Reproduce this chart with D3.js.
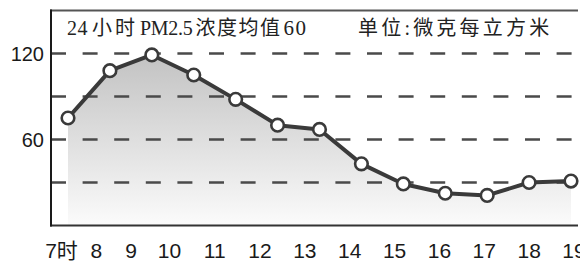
<html>
<head>
<meta charset="utf-8">
<title>PM2.5</title>
<script src="https://cdn.jsdelivr.net/npm/d3@7/dist/d3.min.js"></script>
<style>
  * { margin: 0; padding: 0; }
  body { background: #fff; }
  #chart { width: 580px; height: 261px; }
</style>
</head>
<body>
<div id="chart"></div>
<script type="text/javascript">
  // hours and hourly PM2.5 values
  var hours = [7, 8, 9, 10, 11, 12, 13, 14, 15, 16, 17, 18, 19];
  var values = [75, 108, 119, 105, 88, 70, 67, 43, 29, 22.5, 21, 30, 31];
  var hourLabels = ['7时', '8', '9', '10', '11', '12', '13', '14', '15', '16', '17', '18', '19'];
  var yTicks = [120, 60];
  var gridValues = [120, 90, 60, 30];
  var titleParts = ['24', '小时', 'PM2.5', '浓度均值', '60'];
  var unitText = '单位:微克每立方米';

  var W = 580, H = 261;
  var svg = d3.select('#chart').append('svg')
      .attr('width', W)
      .attr('height', H);

  var x = d3.scaleLinear().domain([7, 19]).range([68, 571]);
  var y = d3.scaleLinear().domain([0, 150]).range([225.5, 10.5]);
  // the hour labels in the print are not evenly spaced
  var xl = d3.scaleLinear().domain([7, 9, 10, 12, 19]).range([61.5, 131, 169.5, 260, 574]);

  var data = hours.map(function(h, i) { return {h: h, v: values[i], label: hourLabels[i]}; });

  // gradient under the curve
  var defs = svg.append('defs');
  var grad = defs.append('linearGradient')
      .attr('id', 'areaGrad')
      .attr('gradientUnits', 'userSpaceOnUse')
      .attr('x1', 0).attr('x2', 0)
      .attr('y1', y(120)).attr('y2', y(0));
  grad.append('stop').attr('offset', '0%').attr('stop-color', '#c2c2c2');
  grad.append('stop').attr('offset', '100%').attr('stop-color', '#fbfbfb');

  var area = d3.area()
      .x(function(d) { return x(d.h); })
      .y0(y(0))
      .y1(function(d) { return y(d.v); });

  svg.append('path')
      .datum(data)
      .attr('d', area)
      .attr('fill', 'url(#areaGrad)');

  // dashed gridlines
  svg.selectAll('line.grid').data(gridValues)
    .enter().append('line')
      .attr('class', 'grid')
      .attr('x1', x.range()[0] - 17)
      .attr('x2', W)
      .attr('y1', function(d) { return y(d); })
      .attr('y2', function(d) { return y(d); })
      .attr('stroke', '#4a4a4a')
      .attr('stroke-width', 2.6)
      .attr('stroke-dasharray', '15,16.6');

  // frame: top rule, left axis, bottom axis
  svg.append('line')
      .attr('x1', 50).attr('x2', 578)
      .attr('y1', y(150)).attr('y2', y(150))
      .attr('stroke', '#555').attr('stroke-width', 2);
  svg.append('line')
      .attr('x1', 50).attr('x2', 578)
      .attr('y1', y(0)).attr('y2', y(0))
      .attr('stroke', '#333').attr('stroke-width', 2);
  svg.append('line')
      .attr('x1', 51).attr('x2', 51)
      .attr('y1', y(150) - 1).attr('y2', y(0) + 1)
      .attr('stroke', '#1a1a1a').attr('stroke-width', 2);

  // the line and markers
  var line = d3.line()
      .x(function(d) { return x(d.h); })
      .y(function(d) { return y(d.v); });

  svg.append('path')
      .datum(data)
      .attr('d', line)
      .attr('fill', 'none')
      .attr('stroke', '#3a3a3a')
      .attr('stroke-width', 4)
      .attr('stroke-linejoin', 'round');

  svg.selectAll('circle.pt').data(data)
    .enter().append('circle')
      .attr('class', 'pt')
      .attr('cx', function(d) { return x(d.h); })
      .attr('cy', function(d) { return y(d.v); })
      .attr('r', 6.3)
      .attr('fill', '#fff')
      .attr('stroke', '#3a3a3a')
      .attr('stroke-width', 2.6);

  // y labels
  svg.selectAll('text.ytick').data(yTicks)
    .enter().append('text')
      .attr('class', 'ytick')
      .attr('x', 44)
      .attr('y', function(d) { return y(d); })
      .attr('dy', '0.36em')
      .attr('text-anchor', 'end')
      .attr('font-family', 'Liberation Sans, Arial, sans-serif')
      .attr('font-size', 20)
      .attr('fill', '#1a1a1a')
      .text(function(d) { return d; });

  // hour labels
  svg.selectAll('text.xtick').data(data)
    .enter().append('text')
      .attr('class', 'xtick')
      .attr('x', function(d) { return xl(d.h); })
      .attr('y', 258)
      .attr('text-anchor', 'middle')
      .attr('font-family', 'Liberation Sans, Arial, "Noto Sans CJK SC", sans-serif')
      .attr('font-size', 21)
      .attr('fill', '#1a1a1a')
      .text(function(d) { return d.label; });

  // title inside the frame, latin runs are tighter than the hanzi
  var spacing = [0.5, 3, -0.3, 1.5, 1.5];
  var gaps = [0, 4, 2, 3, 2];
  var sizes = [20, 20, 20, 20, 21];
  var title = svg.append('text')
      .attr('x', 67)
      .attr('y', 35)
      .attr('font-family', '"Liberation Serif", "Noto Sans CJK SC", serif')
      .attr('fill', '#222');
  title.selectAll('tspan').data(titleParts)
    .enter().append('tspan')
      .attr('dx', function(d, i) { return gaps[i]; })
      .attr('font-size', function(d, i) { return sizes[i]; })
      .attr('letter-spacing', function(d, i) { return spacing[i]; })
      .text(function(d) { return d; });

  svg.append('text')
      .attr('x', 358)
      .attr('y', 35)
      .attr('font-family', '"Liberation Serif", "Noto Sans CJK SC", serif')
      .attr('font-size', 20)
      .attr('letter-spacing', 3.2)
      .attr('fill', '#222')
      .text(unitText);
</script>
</body>
</html>
